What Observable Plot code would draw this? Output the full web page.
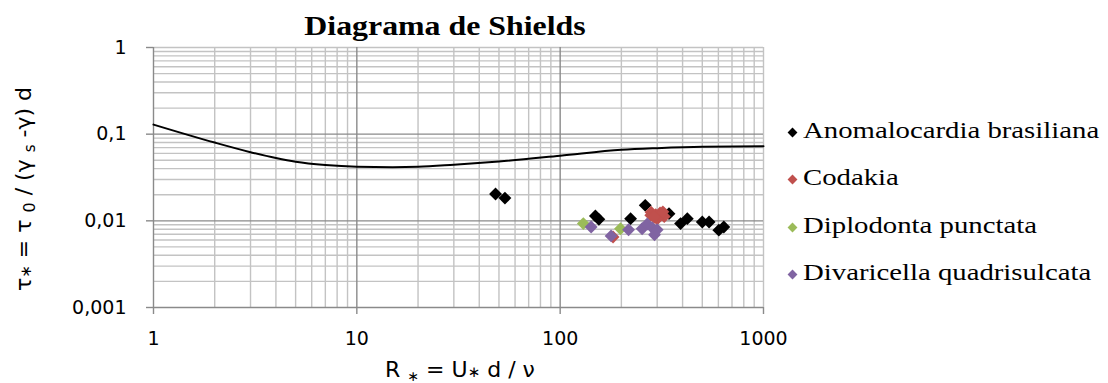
<!DOCTYPE html>
<html>
<head>
<meta charset="utf-8">
<script src="https://cdn.jsdelivr.net/npm/d3@7"></script>
<script src="https://cdn.jsdelivr.net/npm/@observablehq/plot@0.6"></script>
<style>
  html, body { margin: 0; padding: 0; background: #fff; }
  #wrap { position: relative; width: 1108px; height: 383px; overflow: hidden; }
  #wrap svg { position: absolute; left: 0; top: 0; }
  #title { position: absolute; left: 153px; width: 584px; top: 11px; text-align: center;
           font-family: "Liberation Serif", "Times New Roman", serif; font-weight: bold; font-size: 27px; color: #000;
           transform: scaleX(1.18); transform-origin: 292px 0; }
  #legend { position: absolute; left: 787px; top: 117px; color: #000; }
  .item { height: 47.3px; display: flex; align-items: flex-start; white-space: nowrap; }
  .sw { display: inline-block; width: 7px; height: 7px; transform: rotate(45deg); margin: 12px 7px 0 2px; flex: none; }
  .lbl { font-family: "Liberation Serif", "Times New Roman", serif; font-size: 23px; line-height: 27px;
         display: inline-block; transform: scaleX(1.25); transform-origin: 0 0; }
</style>
</head>
<body>
<div id="wrap">
  <div id="title">Diagrama de Shields</div>
  <div id="legend"></div>
</div>
<script>
// Shields curve
const shieldsR   = [1, 2, 3, 4, 5, 7, 10, 15, 20, 30, 50, 100, 200, 300, 500, 1000];
const shieldsTau = [0.129, 0.080, 0.062, 0.053, 0.048, 0.044, 0.042, 0.0415, 0.042, 0.0445, 0.0485, 0.0564, 0.066, 0.069, 0.0716, 0.0724];

// Series
const seriesNames  = ["Anomalocardia brasiliana", "Codakia", "Diplodonta punctata", "Divaricella quadrisulcata"];
const seriesColors = ["#000000", "#C0504D", "#9BBB59", "#8064A2"];

const anomR   = [48.1, 53.5, 149, 155, 222, 262, 343, 391, 422, 500, 540, 603, 638];
const anomTau = [0.0204, 0.0183, 0.0114, 0.0104, 0.0106, 0.0151, 0.0121, 0.0093, 0.0106, 0.0097, 0.0097, 0.0078, 0.0085];
const codaR   = [182, 279, 280, 295, 310, 325, 300, 320, 290];
const codaTau = [0.0065, 0.0116, 0.0126, 0.0118, 0.0123, 0.0112, 0.0105, 0.0127, 0.0110];
const diplR   = [130, 198];
const diplTau = [0.0093, 0.0081];
const divaR   = [142, 178, 217, 253, 268, 284, 291, 300];
const divaTau = [0.0085, 0.0067, 0.0079, 0.0081, 0.0092, 0.0083, 0.0069, 0.0079];

// Axis ticks
const xTicks = [1, 10, 100, 1000];
const yTicks = [0.001, 0.01, 0.1, 1];
const xTickLabels = ["1", "10", "100", "1000"];
const yTickLabels = ["0,001", "0,01", "0,1", "1"];
const xMinor = [2,3,4,5,6,7,8,9,20,30,40,50,60,70,80,90,200,300,400,500,600,700,800,900];
const yMinor = [0.002,0.003,0.004,0.005,0.006,0.007,0.008,0.009,0.02,0.03,0.04,0.05,0.06,0.07,0.08,0.09,0.2,0.3,0.4,0.5,0.6,0.7,0.8,0.9];

const allR = [anomR, codaR, diplR, divaR];
const allTau = [anomTau, codaTau, diplTau, divaTau];
const points = [];
allR.forEach((rs, s) => rs.forEach((r, i) => points.push({R: r, tau: allTau[s][i], series: seriesNames[s]})));
const curve = shieldsR.map((r, i) => ({R: r, tau: shieldsTau[i]}));

const minorColor = "#c3c3c3";
const majorColor = "#8a8a8a";

const chart = Plot.plot({
  width: 1108,
  height: 383,
  marginLeft: 153,
  marginRight: 345,
  marginTop: 47,
  marginBottom: 76,
  style: {fontFamily: "'DejaVu Sans', sans-serif", fontSize: "19px", color: "#000", background: "transparent"},
  x: {type: "log", domain: [1, 1000], axis: null},
  y: {type: "log", domain: [0.001, 1], axis: null},
  color: {domain: seriesNames, range: seriesColors},
  marks: [
    Plot.ruleX(xMinor, {stroke: minorColor, strokeWidth: 1.4}),
    Plot.ruleY(yMinor, {stroke: minorColor, strokeWidth: 1.4}),
    Plot.ruleX([1000], {stroke: minorColor, strokeWidth: 1.4}),
    Plot.ruleY([1], {stroke: minorColor, strokeWidth: 1.4}),
    Plot.ruleX([10, 100], {stroke: majorColor, strokeWidth: 1.4}),
    Plot.ruleY([0.1, 0.01], {stroke: majorColor, strokeWidth: 1.4}),
    Plot.ruleX([1], {stroke: majorColor, strokeWidth: 1.4}),
    Plot.ruleY([0.001], {stroke: majorColor, strokeWidth: 1.4}),
    Plot.axisX({ticks: xTicks, tickFormat: (d) => xTickLabels[xTicks.indexOf(d)], label: null, tickSize: 7, tickPadding: 17, stroke: majorColor, strokeWidth: 1.4, fontSize: 19}),
    Plot.axisY({ticks: yTicks, tickFormat: (d) => yTickLabels[yTicks.indexOf(d)], label: null, tickSize: 7, tickPadding: 20, stroke: majorColor, strokeWidth: 1.4, fontSize: 19}),
    Plot.line(curve, {x: "R", y: "tau", stroke: "#000", strokeWidth: 2, curve: "monotone-x"}),
    Plot.dot(points, {x: "R", y: "tau", fill: "series", symbol: "diamond2", r: 5.8, stroke: "none"})
  ]
});
document.getElementById("wrap").appendChild(chart);

// Axis titles with sub/superscripts
const svg = d3.select(chart);
const xt = svg.append("text")
  .attr("x", 460).attr("y", 377)
  .attr("text-anchor", "middle")
  .style("font", "22px 'DejaVu Sans', sans-serif").style("fill", "#000");
xt.append("tspan").text("R ");
xt.append("tspan").attr("dy", 4).style("font-size", "14px").text("∗");
xt.append("tspan").attr("dy", -4).text(" = U");
xt.append("tspan").style("font-size", "15px").text("∗");
xt.append("tspan").text(" d / ν");

const yt = svg.append("text")
  .attr("transform", "translate(31,189) rotate(-90)")
  .attr("text-anchor", "middle")
  .style("font", "22px 'DejaVu Sans', sans-serif").style("fill", "#000");
yt.append("tspan").text("τ");
yt.append("tspan").style("font-size", "15px").text("∗");
yt.append("tspan").text(" = τ ");
yt.append("tspan").attr("dy", 4).style("font-size", "16px").text("0");
yt.append("tspan").attr("dy", -4).text(" / (γ ");
yt.append("tspan").attr("dy", 4).style("font-size", "15px").text("s");
yt.append("tspan").attr("dy", -4).text(" -γ) d");

// Legend
const legend = d3.select("#legend");
seriesNames.forEach((name, i) => {
  const it = legend.append("div").attr("class", "item");
  it.append("span").attr("class", "sw").style("background", seriesColors[i]);
  it.append("span").attr("class", "lbl").text(name);
});
</script>
</body>
</html>
